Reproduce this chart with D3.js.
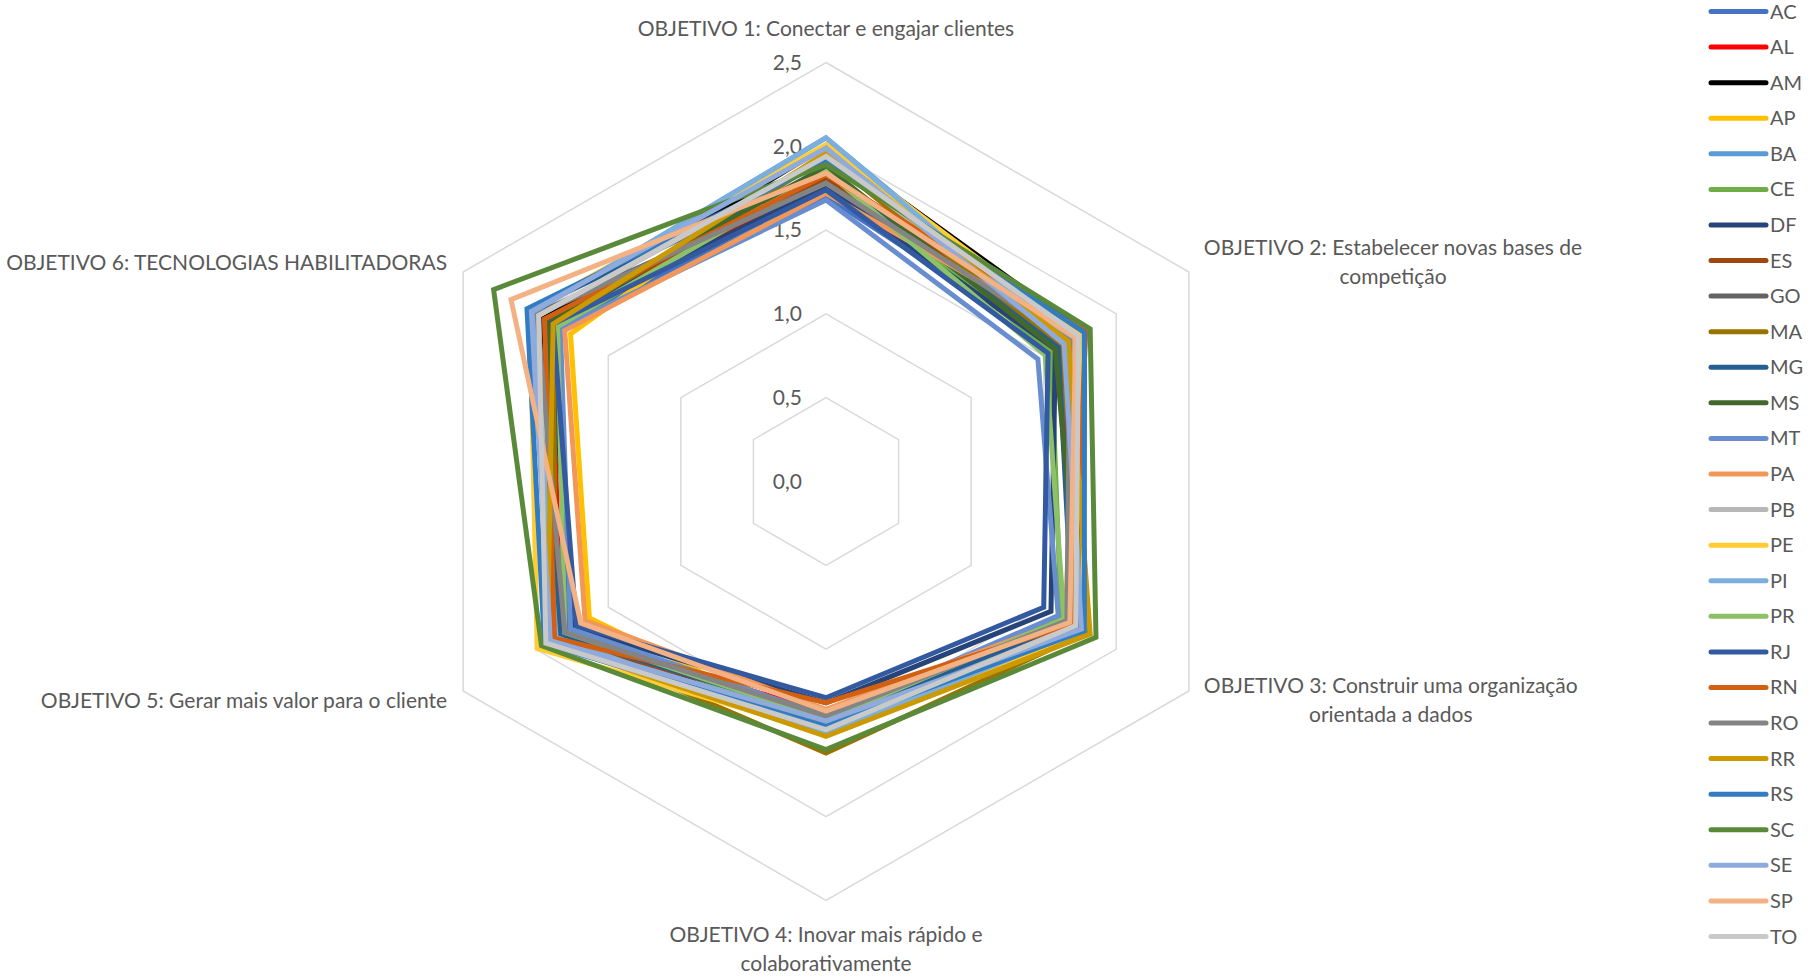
<!DOCTYPE html>
<html>
<head>
<meta charset="utf-8">
<script src="https://cdn.jsdelivr.net/npm/d3@7"></script>
<style>
  body { margin: 0; background: #fff; }
  svg { display: block; font-family: Lato, "Open Sans", sans-serif; }
</style>
</head>
<body>
<svg id="chart" width="1819" height="980"></svg>
<script>
// eixos do radar
const objetivos = [
    ["OBJETIVO 1: Conectar e engajar clientes"],
    ["OBJETIVO 2: Estabelecer novas bases de", "competição"],
    ["OBJETIVO 3: Construir uma organização", "orientada a dados"],
    ["OBJETIVO 4: Inovar mais rápido e", "colaborativamente"],
    ["OBJETIVO 5: Gerar mais valor para o cliente"],
    ["OBJETIVO 6: TECNOLOGIAS HABILITADORAS"]
];

const estados = ["AC","AL","AM","AP","BA","CE","DF","ES","GO","MA","MG","MS","MT","PA",
                 "PB","PE","PI","PR","RJ","RN","RO","RR","RS","SC","SE","SP","TO"];

const cores = ["#4472C4","#FF0000","#000000","#FFC000","#5B9BD5","#70AD47","#264478","#9E480E",
               "#636363","#997300","#255E91","#43682B","#698ED0","#F1975A","#B7B7B7","#FFCD33",
               "#7CAFDD","#8CC168","#335AA1","#D26012","#848484","#CC9A00","#327DC2","#5A8A39",
               "#8FAADC","#F4B183","#C9C9C9"];

// notas por objetivo, na ordem dos estados
const obj1 = [1.70,1.80,2.00,1.97,2.05,1.86,1.76,1.80,1.78,1.93,1.85,1.88,1.68,1.72,1.93,2.01,2.05,1.85,1.74,1.83,1.78,1.96,1.91,1.89,1.99,1.84,1.94];
const obj2 = [1.60,1.65,1.78,1.72,1.68,1.55,1.58,1.70,1.66,1.62,1.60,1.58,1.46,1.72,1.70,1.75,1.66,1.51,1.53,1.79,1.68,1.67,1.78,1.82,1.64,1.72,1.74];
const obj3 = [1.74,1.70,1.77,1.80,1.75,1.62,1.55,1.70,1.68,1.80,1.70,1.75,1.60,1.65,1.72,1.78,1.76,1.64,1.50,1.70,1.66,1.82,1.78,1.86,1.76,1.68,1.72];
const obj4 = [1.44,1.38,1.45,1.50,1.51,1.44,1.32,1.38,1.40,1.62,1.41,1.46,1.40,1.36,1.47,1.50,1.51,1.42,1.29,1.32,1.40,1.52,1.46,1.60,1.43,1.37,1.48];
const obj5 = [1.78,1.82,1.85,1.63,1.88,1.80,1.75,1.88,1.84,1.86,1.83,1.88,1.76,1.66,1.90,1.99,1.86,1.80,1.72,1.87,1.80,1.92,1.94,1.96,1.90,1.69,1.93];
const obj6 = [1.86,1.90,1.95,1.76,2.02,1.84,1.90,1.93,2.00,1.88,2.05,1.92,1.83,1.80,1.98,2.04,2.02,1.85,1.88,1.94,1.99,1.88,2.06,2.29,2.03,2.17,1.98];

const ticks = [0, 0.5, 1.0, 1.5, 2.0, 2.5];

// configuração
const cx = 826, cy = 481.5, raio = 419;
const textColor = "#595959";
const fmt = d3.formatLocale({ decimal: ",", thousands: ".", grouping: [3], currency: ["R$", ""] }).format(".1f");

const svg = d3.select("#chart");
const g = svg.append("g").attr("transform", `translate(${cx},${cy})`);

const r = d3.scaleLinear().domain([0, 2.5]).range([0, raio]);
const ang = d3.scaleLinear().domain([0, objetivos.length]).range([0, 2 * Math.PI]);

const series = estados.map((e, i) => ({
    estado: e,
    cor: cores[i],
    valores: [obj1[i], obj2[i], obj3[i], obj4[i], obj5[i], obj6[i]]
}));

// grade hexagonal
const ring = d3.lineRadial()
    .angle((d, i) => ang(i))
    .radius(d => r(d))
    .curve(d3.curveLinearClosed);

g.append("g").selectAll("path")
    .data(ticks.filter(t => t > 0))
    .join("path")
    .attr("d", t => ring(objetivos.map(() => t)))
    .attr("fill", "none")
    .attr("stroke", "#D9D9D9")
    .attr("stroke-width", 1.5);

// rótulos da escala
g.append("g").selectAll("text")
    .data(ticks)
    .join("text")
    .attr("x", -24)
    .attr("y", t => -r(t))
    .attr("dy", "0.35em")
    .attr("text-anchor", "end")
    .attr("font-size", "21px")
    .attr("fill", textColor)
    .text(t => fmt(t));

// linhas dos estados
g.append("g").selectAll("path")
    .data(series)
    .join("path")
    .attr("d", d => ring(d.valores))
    .attr("fill", "none")
    .attr("stroke", d => d.cor)
    .attr("stroke-width", 5)
    .attr("stroke-linejoin", "miter");

// rótulos dos eixos
const lineH = 29;
objetivos.forEach((linhas, i) => {
    const a = ang(i);
    const vx = Math.sin(a) * r(2.5);
    const vy = -Math.cos(a) * r(2.5);
    const t = g.append("text")
        .attr("font-size", "21px")
        .attr("fill", textColor);
    const sx = Math.round(Math.sin(a) * 100) / 100;
    const cyBlock = Math.abs(sx) < 0.01
        ? vy + Math.sign(vy) * 34 + (vy > 0 ? (linhas.length - 1) * lineH / 2 : 0)
        : vy + (vy < 0 ? -9.5 : 9.5);
    const top = cyBlock - (linhas.length - 1) * lineH / 2;
    const spans = linhas.map((txt, k) => t.append("tspan")
        .attr("y", top + k * lineH)
        .attr("dy", "0.35em")
        .text(txt));
    if (Math.abs(sx) < 0.01) {
        t.attr("text-anchor", "middle");
        spans.forEach(s => s.attr("x", vx));
    } else if (sx > 0) {
        t.attr("text-anchor", "middle");
        const w = d3.max(spans, s => s.node().getComputedTextLength());
        spans.forEach(s => s.attr("x", vx + 15 + w / 2));
    } else {
        t.attr("text-anchor", "end");
        spans.forEach(s => s.attr("x", vx - 16));
    }
});

// legenda
const ly = d3.scaleLinear().domain([0, estados.length - 1]).range([11.5, 936.5]);
const leg = svg.append("g").selectAll("g")
    .data(series)
    .join("g")
    .attr("transform", (d, i) => `translate(1711,${ly(i)})`);

leg.append("line")
    .attr("x1", 0).attr("x2", 55)
    .attr("stroke", d => d.cor)
    .attr("stroke-width", 5)
    .attr("stroke-linecap", "round");

leg.append("text")
    .attr("x", 59)
    .attr("dy", "0.35em")
    .attr("font-size", "20px")
    .attr("fill", textColor)
    .text(d => d.estado);
</script>
</body>
</html>
